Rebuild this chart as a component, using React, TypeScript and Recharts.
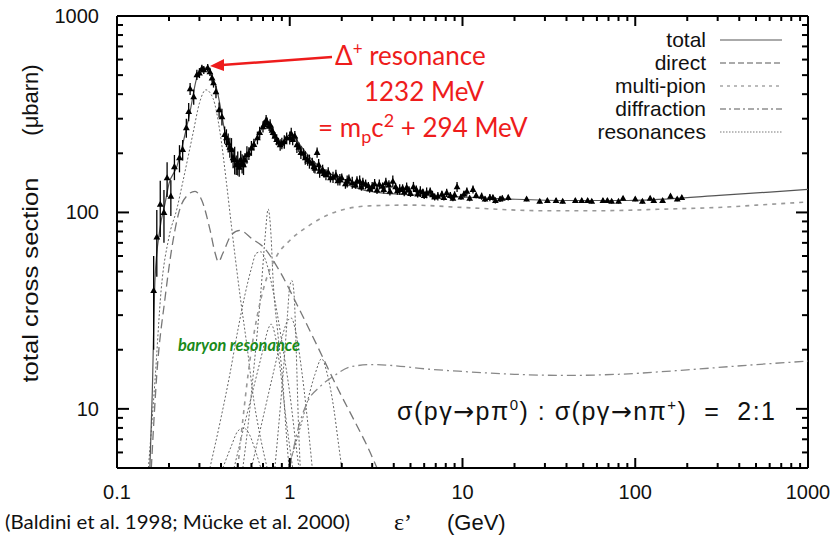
import React from 'react';
import { ComposedChart, Line, Scatter, XAxis, YAxis, ErrorBar, ReferenceLine } from 'recharts';

// axis ticks
const xMajor = [0.1, 1, 10, 100, 1000];
const yMajor = [10, 100, 1000];
const minorSteps = [2, 3, 4, 5, 6, 7, 8, 9];
const xTicks: number[] = [];
xMajor.forEach((d, i) => {
  xTicks.push(d);
  if (i < xMajor.length - 1) minorSteps.forEach((m) => xTicks.push(+(d * m).toPrecision(3)));
});
const yTicks: number[] = [5, 6, 7, 8, 9];
yMajor.forEach((d, i) => {
  yTicks.push(d);
  if (i < yMajor.length - 1) minorSteps.forEach((m) => yTicks.push(d * m));
});
const X_MIN = 0.1, X_MAX = 1000, Y_MIN = 5, Y_MAX = 1000;

// curves: [energy GeV, cross section ubarn]
const totalCurve = [
  [0.155, 5], [0.16, 12], [0.166, 46], [0.177, 82], [0.19, 112], [0.2, 140], [0.222, 171], [0.245, 240],
  [0.264, 322], [0.294, 502], [0.33, 545], [0.36, 470], [0.379, 421], [0.4, 330], [0.422, 255], [0.45, 213],
  [0.47, 193], [0.515, 175], [0.56, 190], [0.62, 225], [0.68, 262], [0.74, 290], [0.8, 255], [0.87, 226],
  [0.95, 234], [1.05, 243], [1.15, 220], [1.31, 190], [1.5, 170], [1.71, 158], [2.15, 139], [2.6, 131],
  [3.3, 126], [5, 123], [7.4, 121], [12, 119], [18.8, 117], [40, 115], [81, 115], [150, 117], [306, 122],
  [600, 127], [1000, 131],
];
const directCurve = [
  [0.158, 5], [0.17, 15], [0.19, 37], [0.21, 70], [0.231, 104], [0.255, 122], [0.283, 128], [0.31, 115],
  [0.345, 82], [0.37, 62], [0.386, 56], [0.41, 62], [0.46, 77], [0.515, 81], [0.61, 73], [0.7, 67],
  [0.877, 50], [1.1, 34], [1.44, 21], [1.87, 13], [2.45, 8.2], [2.8, 6.5], [3.2, 5],
];
const multiPionCurve = [
  [0.5, 5], [0.6, 20], [0.7, 40], [0.84, 60], [1.0, 72], [1.3, 86], [1.7, 98], [2.2, 105], [2.9, 108],
  [5, 109], [10, 106], [30, 102], [60, 102], [150, 104], [300, 106], [600, 110], [1000, 113],
];
const diffractionCurve = [
  [1.0, 5], [1.1, 7.5], [1.27, 10.9], [1.5, 13], [1.78, 14.6], [2.27, 16.4], [3, 16.8], [4, 16.6],
  [6, 16], [10, 15.5], [20, 15], [40, 14.8], [80, 15], [200, 15.8], [500, 16.8], [1000, 17.5],
];
const resDelta = [
  [0.152, 5], [0.166, 14], [0.18, 40], [0.2, 75], [0.222, 104], [0.24, 142], [0.276, 255], [0.3, 360],
  [0.327, 421], [0.36, 380], [0.395, 255], [0.43, 142], [0.46, 85], [0.515, 38], [0.565, 21], [0.62, 11],
  [0.68, 7], [0.74, 5],
];
const resP11 = [
  [0.345, 5], [0.4, 9], [0.45, 15], [0.5, 25], [0.55, 38], [0.6, 52], [0.64, 62], [0.68, 63], [0.72, 58],
  [0.8, 40], [0.9, 22], [1.0, 12], [1.1, 6], [1.13, 5],
];
const resD13 = [
  [0.535, 5], [0.58, 9], [0.61, 14], [0.65, 25], [0.69, 46], [0.72, 75], [0.75, 104], [0.78, 75],
  [0.8, 46], [0.85, 25], [0.91, 14], [0.95, 8], [0.99, 5],
];
const resS11 = [
  [0.476, 5], [0.55, 8.5], [0.62, 13], [0.7, 20], [0.75, 25.5], [0.78, 27], [0.82, 24], [0.88, 16],
  [0.95, 9], [1.04, 5],
];
const resF15 = [
  [0.82, 5], [0.88, 10], [0.93, 18], [0.97, 30], [1.0, 42], [1.03, 45], [1.06, 38], [1.09, 20],
  [1.12, 9], [1.15, 5],
];
const resD15 = [
  [0.6, 5], [0.7, 9], [0.8, 15], [0.9, 23], [0.97, 28], [1.02, 29], [1.08, 25], [1.18, 15], [1.3, 7],
  [1.35, 5],
];
const resF35 = [
  [0.98, 5], [1.1, 7], [1.25, 10.5], [1.4, 15], [1.53, 18], [1.65, 15], [1.8, 10], [1.9, 7], [2.0, 5],
];
const resSmall = [
  [0.41, 5], [0.46, 6.5], [0.5, 7.7], [0.54, 8], [0.58, 7.5], [0.63, 6.2], [0.68, 5],
];
const resonanceCurves = [resDelta, resP11, resD13, resS11, resF15, resD15, resF35, resSmall];

// measurements
const dataE = [
  0.163, 0.17, 0.178, 0.187, 0.195, 0.205, 0.215, 0.23, 0.24, 0.252, 0.26, 0.265, 0.278, 0.29, 0.3, 0.31,
  0.318, 0.335, 0.345, 0.355, 0.362, 0.374, 0.39, 0.405, 0.42, 0.44, 0.46, 0.48, 0.5, 0.52, 0.54, 0.565,
  0.6, 0.65, 0.7, 0.74, 0.77, 0.8, 0.84, 0.88, 0.93, 1.0, 1.04, 1.1, 1.16, 1.23, 1.3, 1.38, 1.44, 1.49,
  1.62, 1.78, 1.95, 2.15, 2.3, 2.54, 2.75, 3.0, 3.3, 3.6, 3.95, 4.33, 4.75, 5.2, 5.7, 6.2, 6.7, 7.2, 8.1,
  9.3, 10.6, 11.5, 12.9, 14.4, 16.5, 18.4, 23.5, 28, 31, 34.8, 38, 45, 49, 53, 56, 65, 69, 73, 80, 85,
  100, 110, 122, 128, 144, 160, 175, 186,
  0.43, 0.45, 0.47, 0.49, 0.51, 0.53, 0.55, 0.58, 0.62, 0.67, 0.71, 0.73, 0.76, 0.79, 0.82, 0.86,
  0.9, 0.96, 1.02, 1.07, 1.13, 1.2, 1.27, 1.35, 1.4, 1.47, 1.55, 1.58, 1.67, 1.72, 1.85, 1.9, 2.0,
  2.1, 2.2, 2.4, 2.45, 2.6, 2.65, 2.85, 2.9, 3.1, 3.2, 3.45, 3.5, 3.75, 3.8, 4.1, 4.2, 4.5, 4.6,
  4.9, 5.0, 5.4, 5.5, 5.9, 6.0, 6.5, 6.9, 7.6, 7.8, 8.5, 8.8, 9.0, 9.8, 10.2, 11, 12, 13.5, 15, 15.5, 17,
];
const dataSigma = [
  40, 75, 110, 100, 150, 121, 171, 190, 209, 270, 326, 426, 388, 502, 513, 540,
  532, 545, 520, 484, 457, 411, 333, 307, 249, 227, 209, 186, 179, 186, 175, 197,
  213, 240, 273, 286, 280, 255, 235, 221, 229, 240, 235, 221, 202, 190, 182, 171, 202, 162,
  156, 151, 147, 144, 142, 144, 139, 135, 139, 142, 144, 131, 134, 135, 128, 126, 123, 121, 126,
  135, 128, 131, 121, 119, 117, 119, 117, 114, 115, 115, 114, 115, 115, 115, 114, 115, 115, 114, 114, 118,
  117, 114, 118, 115, 115, 121, 117, 119,
  240, 215, 190, 175, 170, 178, 185, 200, 222, 255, 280, 295, 275, 262, 245, 228,
  225, 240, 252, 245, 215, 200, 185, 178, 168, 175, 165, 158, 160, 150, 155, 145, 150,
  140, 148, 138, 145, 135, 142, 137, 132, 140, 130, 136, 131, 138, 128, 135, 129, 133, 127,
  130, 125, 131, 124, 127, 122, 128, 120, 124, 119, 122, 118, 123, 120, 124, 118, 122, 117, 119, 115, 118,
];
const dataErr = [
  20, 28, 35, 30, 30, 25, 25, 30, 25, 30, 35, 30, 35, 30, 30, 25,
  25, 25, 25, 25, 25, 30, 30, 30, 25, 25, 30, 30, 25, 20, 20, 20,
  18, 18, 18, 18, 18, 18, 15, 15, 18, 18, 15, 20, 15, 15, 15, 12, 12, 12,
  10, 10, 10, 10, 10, 10, 8, 8, 8, 8, 10, 8, 8, 8, 8, 8, 6, 6, 6,
  8, 6, 6, 5, 5, 4, 4, 3, 3, 3, 3, 3, 3, 3, 3, 3, 3, 3, 3, 3, 3,
  3, 3, 3, 3, 3, 3, 3, 3,
  25, 25, 22, 20, 18, 20, 15, 15, 15, 18, 15, 18, 15, 15, 12, 12,
  15, 15, 18, 15, 12, 12, 12, 12, 10, 12, 10, 8, 10, 8, 10, 8, 8,
  8, 8, 6, 8, 6, 8, 6, 6, 8, 6, 6, 6, 8, 6, 6, 6, 6, 6,
  6, 5, 6, 5, 5, 5, 6, 5, 5, 4, 5, 4, 5, 4, 5, 4, 4, 4, 4, 4, 4,
];

const toPts = (arr: number[][]) => arr.map(([e, s]) => ({ e, s }));
const measurements = dataE.map((e, i) => ({ e, s: dataSigma[i], err: dataErr[i] }));

const isMajor = (v: number) => Math.abs(Math.log10(v) - Math.round(Math.log10(v))) < 1e-6;

// tick marks placed on the frame through the chart scales
const tickMarks = [
  ...xTicks.flatMap((v) => [
    { e: v, s: Y_MIN, side: 'b', major: isMajor(v) },
    { e: v, s: Y_MAX, side: 't', major: isMajor(v) },
  ]),
  ...yTicks.flatMap((v) => [
    { e: X_MIN, s: v, side: 'l', major: isMajor(v) },
    { e: X_MAX, s: v, side: 'r', major: isMajor(v) },
  ]),
];

const AXIS_FONT = '"Liberation Sans", Arial, sans-serif';
const CAL_FONT = 'Lato, "Open Sans", sans-serif';
const ARROW_FONT = '"DejaVu Sans", sans-serif';

const TickMark = ({ cx, cy, payload }: any) => {
  const { side, major } = payload;
  const lx = major ? 10 : 5;
  const ly = major ? 12 : 6;
  let x2 = cx, y2 = cy;
  if (side === 'b') y2 = cy - lx;
  if (side === 't') y2 = cy + lx;
  if (side === 'l') x2 = cx + ly;
  if (side === 'r') x2 = cx - ly;
  return <line x1={cx} y1={cy} x2={x2} y2={y2} stroke="#000" strokeWidth={2} />;
};

const BottomLabel = ({ x, y, payload }: any) =>
  isMajor(payload.value) ? (
    <text x={x} y={y + 31} textAnchor="middle" fontSize={20} fontFamily={AXIS_FONT} fill="#111">
      {String(payload.value)}
    </text>
  ) : (
    <g />
  );
const LeftLabel = ({ x, y, payload }: any) =>
  isMajor(payload.value) ? (
    <text x={x - 18} y={y + 7} textAnchor="end" fontSize={20} fontFamily={AXIS_FONT} fill="#111">
      {String(payload.value)}
    </text>
  ) : (
    <g />
  );

const Triangle = ({ cx, cy }: any) => (
  <path d={`M${cx},${cy - 3.6} L${cx + 3.4},${cy + 2.5} L${cx - 3.4},${cy + 2.5} Z`} fill="#000" />
);

const legendRows = [
  { name: 'total', dash: undefined, color: '#aaa' },
  { name: 'direct', dash: '6 3', color: '#aaa' },
  { name: 'multi-pion', dash: '3 4', color: '#bbb' },
  { name: 'diffraction', dash: '6 3 2 3', color: '#aaa' },
  { name: 'resonances', dash: '1.5 1.5', color: '#bbb' },
];

export default function App() {
  return (
    <div style={{ position: 'absolute', left: 0, top: 0, width: 838, height: 540, background: '#fff' }}>
      <ComposedChart width={838} height={540} margin={{ top: 16, right: 30, bottom: 12, left: 17 }}>
        <XAxis
          xAxisId="b" dataKey="e" type="number" scale="log" domain={[X_MIN, X_MAX]} allowDataOverflow
          ticks={xTicks} interval={0} tickSize={0} tickMargin={0} tick={<BottomLabel />} height={60}
          axisLine={{ stroke: '#000', strokeWidth: 2 }} tickLine={false}
        />
        <YAxis
          yAxisId="l" dataKey="s" type="number" scale="log" domain={[Y_MIN, Y_MAX]} allowDataOverflow
          ticks={yTicks} interval={0} tickSize={0} tickMargin={0} tick={<LeftLabel />} width={100}
          axisLine={{ stroke: '#000', strokeWidth: 2 }} tickLine={false}
        />
        {/* frame: top and right edges */}
        <ReferenceLine xAxisId="b" yAxisId="l" y={Y_MAX} stroke="#000" strokeWidth={2} ifOverflow="visible" />
        <ReferenceLine xAxisId="b" yAxisId="l" x={X_MAX} stroke="#000" strokeWidth={2} ifOverflow="visible" />
        {resonanceCurves.map((c, i) => (
          <Line
            key={'res' + i} xAxisId="b" yAxisId="l" data={toPts(c)} dataKey="s" type="monotone"
            stroke="#666" strokeWidth={1} strokeDasharray="2 2" dot={false} isAnimationActive={false}
          />
        ))}
        <Line xAxisId="b" yAxisId="l" data={toPts(diffractionCurve)} dataKey="s" type="monotone"
          stroke="#888" strokeWidth={1.3} strokeDasharray="9 4 2 4" dot={false} isAnimationActive={false} />
        <Line xAxisId="b" yAxisId="l" data={toPts(multiPionCurve)} dataKey="s" type="monotone"
          stroke="#999" strokeWidth={1.6} strokeDasharray="4 5" dot={false} isAnimationActive={false} />
        <Line xAxisId="b" yAxisId="l" data={toPts(directCurve)} dataKey="s" type="monotone"
          stroke="#777" strokeWidth={1.3} strokeDasharray="9 5" dot={false} isAnimationActive={false} />
        <Line xAxisId="b" yAxisId="l" data={toPts(totalCurve)} dataKey="s" type="monotone"
          stroke="#555" strokeWidth={1.2} dot={false} isAnimationActive={false} />
        <Scatter xAxisId="b" yAxisId="l" data={measurements} shape={<Triangle />} isAnimationActive={false}>
          <ErrorBar dataKey="err" direction="y" width={0} stroke="#000" strokeWidth={1.3} />
        </Scatter>
        <Scatter xAxisId="b" yAxisId="l" data={tickMarks} shape={<TickMark />} isAnimationActive={false} />
      </ComposedChart>

      <svg width={838} height={540}
        style={{ position: 'absolute', left: 0, top: 0, pointerEvents: 'none', background: 'transparent' }}>
        {/* legend */}
        {legendRows.map((r, i) => {
          const y = 40 + i * 23;
          return (
            <g key={r.name}>
              <text x={706} y={y + 7} textAnchor="end" fontSize={21} fontFamily={AXIS_FONT} fill="#111">{r.name}</text>
              <line x1={720} x2={782} y1={y} y2={y} stroke={r.color} strokeWidth={1.8} strokeDasharray={r.dash} />
            </g>
          );
        })}

        {/* delta annotation */}
        <line x1={332} y1={57} x2={222} y2={65} stroke="#ee1c1c" strokeWidth={2.5} />
        <path d="M210,66 L224,59 L224,71 Z" fill="#ee1c1c" />
        <g fill="#ee1c1c" fontFamily={CAL_FONT} fontSize={26}>
          <text x={335} y={65}>Δ<tspan dy={-10} fontSize={17}>+</tspan><tspan dy={10}> resonance</tspan></text>
          <text x={424} y={101} textAnchor="middle">1232 MeV</text>
          <text x={318} y={137}>= m<tspan dy={6} fontSize={18}>p</tspan><tspan dy={-6}>c</tspan><tspan dy={-10} fontSize={18}>2</tspan><tspan dy={10}> + 294 MeV</tspan></text>
        </g>

        <text x={178} y={351} fontSize={17} fontStyle="italic" fontWeight="bold" fill="#1a8a1a" fontFamily={CAL_FONT}
          textLength={122} lengthAdjust="spacingAndGlyphs">
          baryon resonance
        </text>

        <text x={397} y={420} fontSize={25} fontFamily={AXIS_FONT} fill="#111" style={{ whiteSpace: 'pre' }}
          textLength={378} lengthAdjust="spacing">
          σ(pγ<tspan fontFamily={ARROW_FONT}>→</tspan>pπ<tspan dy={-10} fontSize={15}>0</tspan><tspan dy={10}>) : σ(pγ</tspan><tspan fontFamily={ARROW_FONT}>→</tspan>nπ<tspan dy={-10} fontSize={15}>+</tspan><tspan dy={10}>)  =  2:1</tspan>
        </text>

        {/* axis titles */}
        <text transform="translate(38,280) rotate(-90)" textAnchor="middle" fontSize={22} fontFamily={AXIS_FONT} fill="#111"
          textLength={205} lengthAdjust="spacingAndGlyphs">
          total cross section
        </text>
        <text transform="translate(38,100) rotate(-90)" textAnchor="middle" fontSize={22} fontFamily={AXIS_FONT} fill="#111">
          (μbarn)
        </text>
        <text x={394} y={530} fontSize={24} fontFamily='"Liberation Serif", serif' fill="#111">ε’</text>
        <text x={447} y={530} fontSize={22} fontFamily={AXIS_FONT} fill="#111">(GeV)</text>
        <text x={5} y={529} fontSize={19} fontFamily={CAL_FONT} fill="#111" textLength={345} lengthAdjust="spacingAndGlyphs">
          (Baldini et al. 1998; Mücke et al. 2000)
        </text>
      </svg>
    </div>
  );
}
